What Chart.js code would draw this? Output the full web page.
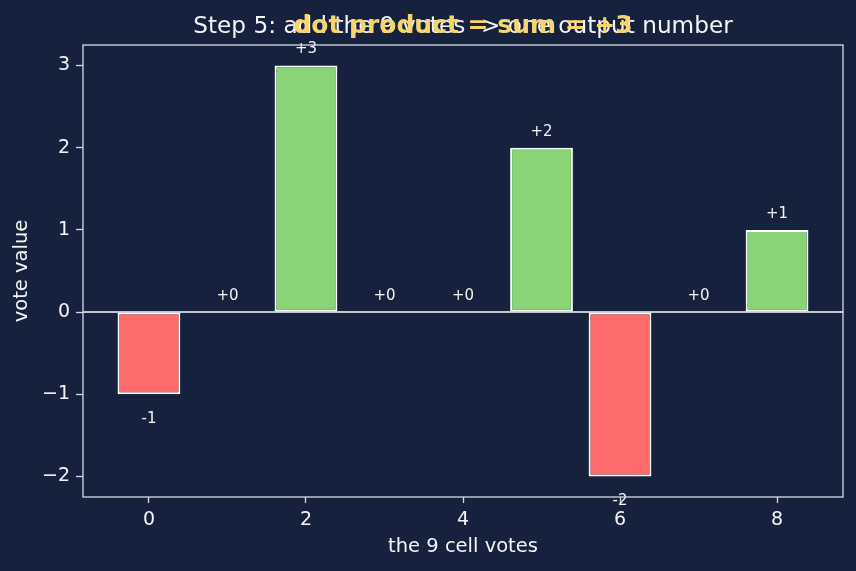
<!DOCTYPE html>
<html>
<head>
<meta charset="utf-8">
<script src="https://cdn.jsdelivr.net/npm/chart.js@4"></script>
<style>
  html, body { margin: 0; padding: 0; background: #16213e; }
  #wrap { width: 856px; height: 571px; position: relative; }
</style>
</head>
<body>
<div id="wrap"><canvas id="grafico"></canvas></div>
<script>
var cells = [0, 1, 2, 3, 4, 5, 6, 7, 8]
var votes = [-1, 0, 3, 0, 0, 2, -2, 0, 1]
var xTicks = [0, 2, 4, 6, 8]
var yTicks = [-2, -1, 0, 1, 2, 3]

var titulo = 'Step 5: add the 9 votes -> one output number'
var destaque = 'dot product = sum = +3'

var fundo = '#16213e'
var verde = '#88d476'
var vermelho = '#ff6b6b'
var eixo = '#d4dae6'
var texto = '#f4f4f4'

// rotulos +n / -n sobre as barras, titulo sobreposto e moldura
var extras = {
  id: 'extras',
  beforeDraw(chart) {
    var c = chart.ctx
    c.save()
    c.fillStyle = fundo
    c.fillRect(0, 0, chart.width, chart.height)
    c.restore()
  },
  afterDatasetsDraw(chart) {
    var c = chart.ctx
    var a = chart.chartArea
    var ys = chart.scales.y
    c.save()
    // linha do zero
    c.strokeStyle = '#ffffff'
    c.lineWidth = 1.5
    c.beginPath()
    c.moveTo(a.left, ys.getPixelForValue(0))
    c.lineTo(a.right, ys.getPixelForValue(0))
    c.stroke()

    c.fillStyle = texto
    c.font = '15px "DejaVu Sans"'
    c.textAlign = 'center'
    c.textBaseline = 'middle'
    chart.getDatasetMeta(0).data.forEach(function (bar, i) {
      var v = votes[i]
      var py = ys.getPixelForValue(v)
      if (v >= 0) c.fillText('+' + v, bar.x, py - 16)
      else c.fillText(String(v), bar.x, py + 25)
    })

    // moldura
    c.strokeStyle = eixo
    c.lineWidth = 1.3
    c.strokeRect(a.left, a.top, a.right - a.left, a.bottom - a.top)

    // titulos
    var cx = (a.left + a.right) / 2
    c.font = '23.2px "DejaVu Sans"'
    c.fillStyle = texto
    c.fillText(titulo, cx, 27)
    c.font = 'bold 25px "DejaVu Sans"'
    c.fillStyle = '#f7d56e'
    c.fillText(destaque, cx, 26)
    c.restore()
  }
}

Chart.defaults.font.family = '"DejaVu Sans"'
Chart.defaults.color = texto

var ctx = document.getElementById('grafico')
var chart = new Chart(ctx, {
  type: 'bar',
  data: {
    datasets: [{
      label: 'votes',
      data: cells.map((x, i) => ({ x: x, y: votes[i] })),
      backgroundColor: votes.map(v => v >= 0 ? verde : vermelho),
      borderColor: '#ffffff',
      borderWidth: 2,
      borderSkipped: false,
      barPercentage: 0.8,
      categoryPercentage: 1.0
    }]
  },
  options: {
    responsive: true,
    maintainAspectRatio: false,
    animation: false,
    layout: { padding: { top: 45, right: 13, left: 0, bottom: 0 } },
    plugins: { legend: { display: false }, tooltip: { enabled: false } },
    scales: {
      x: {
        type: 'linear',
        offset: false,
        min: -0.84,
        max: 8.84,
        afterBuildTicks: s => { s.ticks = xTicks.map(v => ({ value: v })) },
        afterFit: s => { s.height = 74 },
        grid: { offset: false, drawOnChartArea: false, color: eixo, tickLength: 6, tickWidth: 1.3 },
        border: { display: false },
        ticks: { color: texto, font: { size: 19 }, padding: 6 },
        title: { display: true, text: 'the 9 cell votes', color: texto, font: { size: 19.5 }, padding: { top: 0, bottom: 12 } }
      },
      y: {
        min: -2.25,
        max: 3.25,
        afterBuildTicks: s => { s.ticks = yTicks.map(v => ({ value: v })) },
        afterFit: s => { s.width = 83 },
        grid: { drawOnChartArea: false, color: eixo, tickLength: 7, tickWidth: 1.3 },
        border: { display: false },
        ticks: { color: texto, font: { size: 19 }, padding: 6, callback: v => v < 0 ? '\u2212' + Math.abs(v) : v },
        title: { display: true, text: 'vote value', color: texto, font: { size: 19.5 }, padding: { top: 10, bottom: 0 } }
      }
    }
  },
  plugins: [extras]
})
</script>
</body>
</html>
